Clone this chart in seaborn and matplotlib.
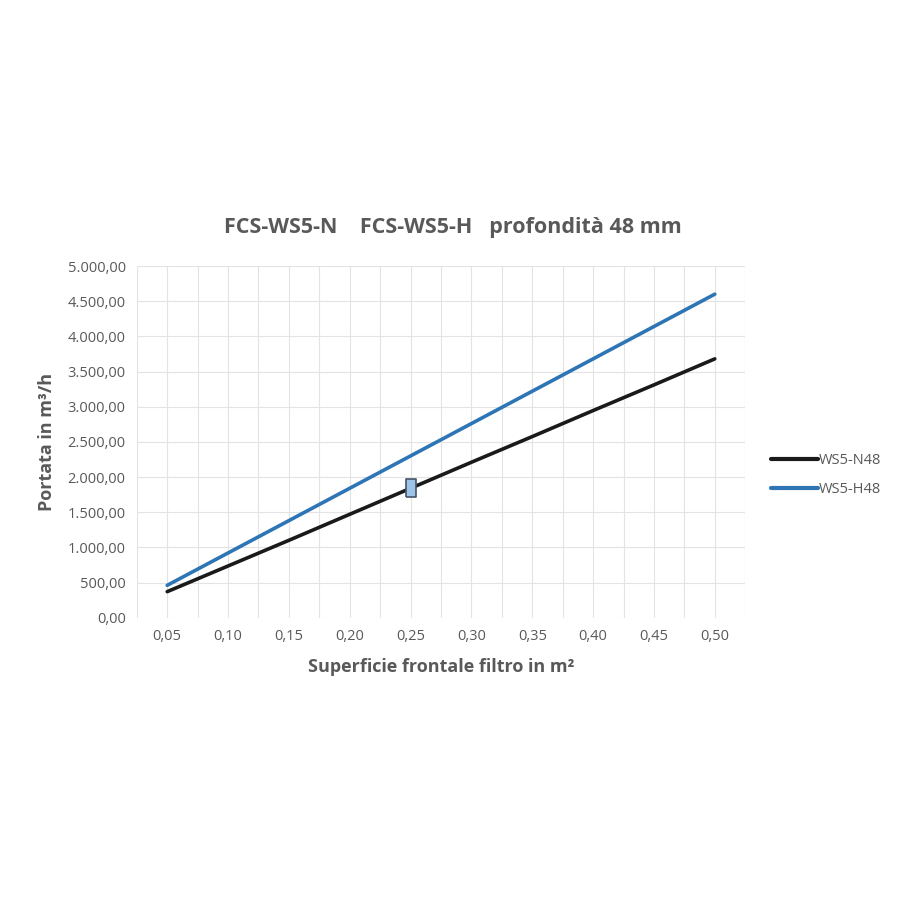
import matplotlib
matplotlib.use("Agg")
import matplotlib.pyplot as plt
from matplotlib.ticker import FuncFormatter, MultipleLocator
import pandas as pd
import seaborn as sns

# data
superficie = ["0,05", "0,10", "0,15", "0,20", "0,25", "0,30", "0,35", "0,40", "0,45", "0,50"]
ws5_n48 = [370, 735, 1100, 1470, 1840, 2210, 2575, 2945, 3310, 3680]
ws5_h48 = [460, 920, 1380, 1840, 2300, 2760, 3220, 3680, 4140, 4600]
series_names = ["WS5-N48", "WS5-H48"]
series_colors = ["#1a1a1a", "#2e75b6"]

grey = "#595959"

df = pd.DataFrame({
    "pos": list(range(len(superficie))) * 2,
    "portata": ws5_n48 + ws5_h48,
    "serie": [series_names[0]] * len(superficie) + [series_names[1]] * len(superficie),
})

sns.set_theme(style="white")
plt.rcParams["font.family"] = ["Open Sans", "DejaVu Sans"]

fig = plt.figure(figsize=(9, 9), dpi=100)
ax = fig.add_axes([0.152, 0.3137, 0.676, 0.3907])

sns.lineplot(data=df, x="pos", y="portata", hue="serie",
             palette=dict(zip(series_names, series_colors)),
             linewidth=2.6, ax=ax, legend=False, zorder=3)

# little selection marker sitting on the black line at 0,25
ax.plot(4, ws5_n48[4], marker=[(-0.5, -1), (0.5, -1), (0.5, 1), (-0.5, 1), (-0.5, -1)],
        markersize=13, markerfacecolor="#9dc3e6", markeredgecolor="#44546a",
        markeredgewidth=1.2, linestyle="none", zorder=4)

ax.set_xlim(-0.5, len(superficie) - 0.5)
ax.set_ylim(0, 5000)
ax.set_xticks(range(len(superficie)))
ax.set_xticklabels(superficie)
ax.xaxis.set_minor_locator(MultipleLocator(0.5))
ax.yaxis.set_major_locator(MultipleLocator(500))
ax.yaxis.set_major_formatter(FuncFormatter(
    lambda v, p: f"{v:,.2f}".replace(",", "X").replace(".", ",").replace("X", ".")))

ax.grid(True, which="both", axis="x", color="#e3e3e3", linewidth=0.8)
ax.grid(True, which="major", axis="y", color="#e3e3e3", linewidth=0.8)
ax.set_axisbelow(True)
for s in ax.spines.values():
    s.set_visible(False)
ax.tick_params(axis="both", which="both", length=0, labelsize=10.5, colors=grey, pad=8)

ax.set_xlabel("Superficie frontale filtro in m²", fontsize=13, fontweight="bold",
              color=grey, labelpad=10)
ax.set_ylabel("Portata in m³/h", fontsize=13, fontweight="bold", color=grey, labelpad=8)
ax.set_title("FCS-WS5-N    FCS-WS5-H   profondità 48 mm", fontsize=15.5,
             fontweight="bold", color=grey, pad=24, x=0.52)

handles = [plt.Line2D([], [], color=c, linewidth=3) for c in series_colors]
leg = fig.legend(handles, series_names, loc="center left",
                 bbox_to_anchor=(0.842, 0.472), frameon=False,
                 handlelength=3.2, handletextpad=0.1, labelspacing=1.0,
                 fontsize=10.5)
for t in leg.get_texts():
    t.set_color(grey)

fig.savefig("out.png", dpi=100, facecolor="white")
